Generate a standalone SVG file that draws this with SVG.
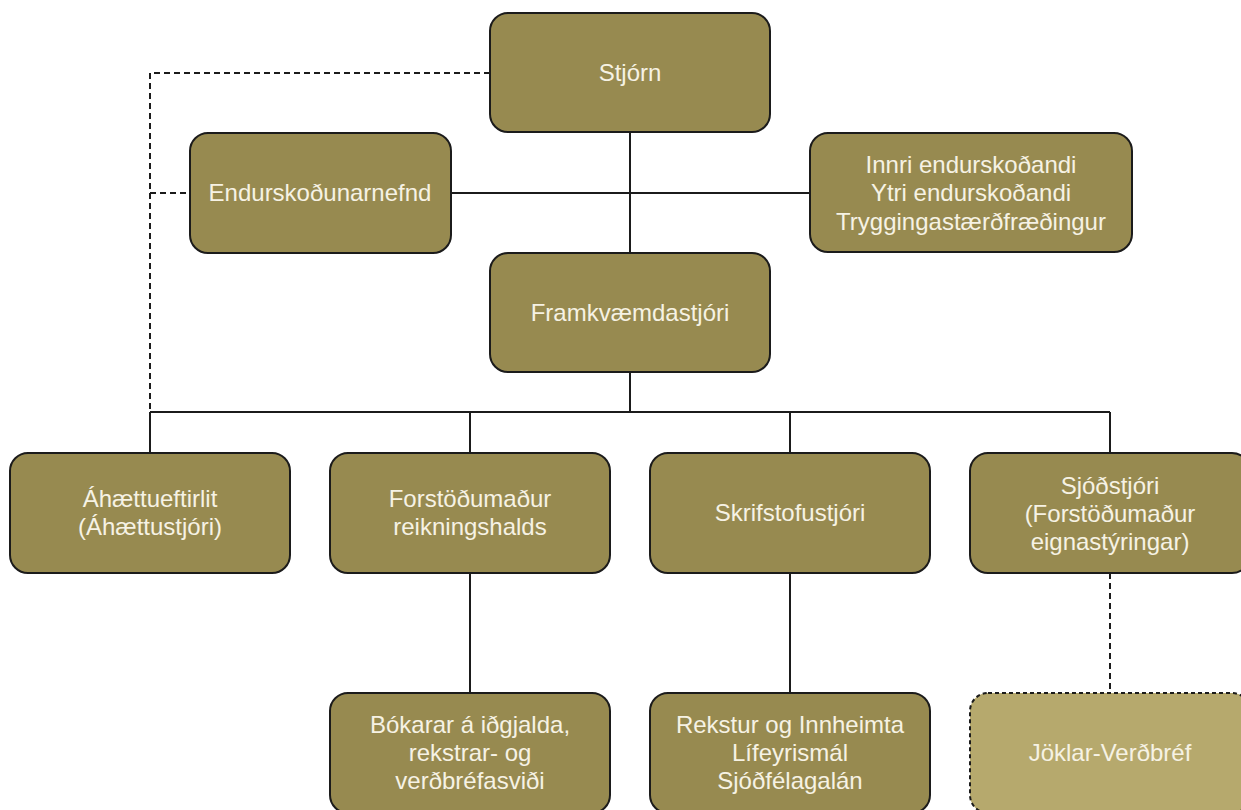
<svg xmlns="http://www.w3.org/2000/svg" width="1241" height="810" viewBox="0 0 1241 810">
<style>
.box{fill:#978a50;stroke:#1b1b1b;stroke-width:2}
.lite{fill:#b6a96d;stroke:#1b1b1b;stroke-width:2;stroke-dasharray:4 3}
.t{font-family:"Liberation Sans",Arial,sans-serif;font-size:24px;fill:#f6f2e4;text-anchor:middle}
.c{fill:none;stroke:#1b1b1b;stroke-width:2}
.d{fill:none;stroke:#1b1b1b;stroke-width:2;stroke-dasharray:6 4}
</style>
<rect width="1241" height="810" fill="#ffffff"/>
<g id="connectors">
<path class="d" d="M490,73 H150 V412"/>
<path class="d" d="M150,193 H190"/>
<path class="c" d="M630,132 V253"/>
<path class="c" d="M451,193 H810"/>
<path class="c" d="M630,372 V412 M150,412 H1110 M150,412 V453 M470,412 V453 M790,412 V453 M1110,412 V453"/>
<path class="c" d="M470,573 V693 M790,573 V693"/>
<path class="d" d="M1110,573 V693"/>
</g>
<g id="stjorn"><rect class="box" x="490" y="13" width="280" height="119" rx="18"/><text class="t" x="630" y="81">Stjórn</text></g>
<g id="endurskodunarnefnd"><rect class="box" x="190" y="133" width="261" height="120" rx="18"/><text class="t" x="320" y="201">Endurskoðunarnefnd</text></g>
<g id="endurskodendur"><rect class="box" x="810" y="133" width="322" height="119" rx="18"/><text class="t" x="971" y="173">Innri endurskoðandi</text><text class="t" x="971" y="201">Ytri endurskoðandi</text><text class="t" x="971" y="230">Tryggingastærðfræðingur</text></g>
<g id="framkvaemdastjori"><rect class="box" x="490" y="253" width="280" height="119" rx="18"/><text class="t" x="630" y="321">Framkvæmdastjóri</text></g>
<g id="ahaettueftirlit"><rect class="box" x="10" y="453" width="280" height="120" rx="18"/><text class="t" x="150" y="507">Áhættueftirlit</text><text class="t" x="150" y="535">(Áhættustjóri)</text></g>
<g id="reikningshald"><rect class="box" x="330" y="453" width="280" height="120" rx="18"/><text class="t" x="470" y="507">Forstöðumaður</text><text class="t" x="470" y="535">reikningshalds</text></g>
<g id="skrifstofustjori"><rect class="box" x="650" y="453" width="280" height="120" rx="18"/><text class="t" x="790" y="521">Skrifstofustjóri</text></g>
<g id="sjodstjori"><rect class="box" x="970" y="453" width="280" height="120" rx="18"/><text class="t" x="1110" y="494">Sjóðstjóri</text><text class="t" x="1110" y="522">(Forstöðumaður</text><text class="t" x="1110" y="550">eignastýringar)</text></g>
<g id="bokarar"><rect class="box" x="330" y="693" width="280" height="120" rx="18"/><text class="t" x="470" y="733">Bókarar á iðgjalda,</text><text class="t" x="470" y="761">rekstrar- og</text><text class="t" x="470" y="789">verðbréfasviði</text></g>
<g id="rekstur"><rect class="box" x="650" y="693" width="280" height="120" rx="18"/><text class="t" x="790" y="733">Rekstur og Innheimta</text><text class="t" x="790" y="761">Lífeyrismál</text><text class="t" x="790" y="789">Sjóðfélagalán</text></g>
<g id="joklar"><rect class="lite" x="970" y="693" width="280" height="120" rx="18"/><text class="t" x="1110" y="761">Jöklar-Verðbréf</text></g>
</svg>
